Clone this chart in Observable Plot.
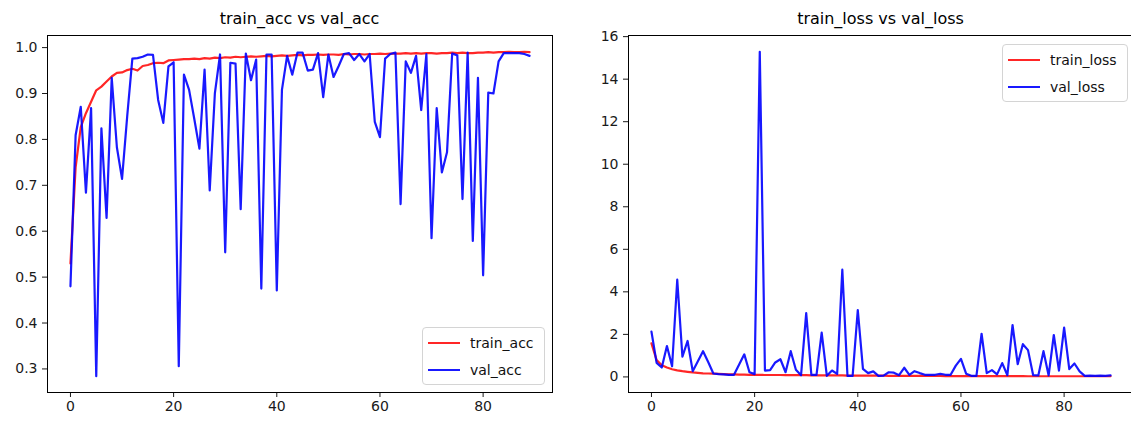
<!DOCTYPE html>
<html><head><meta charset="utf-8">
<script src="https://cdn.jsdelivr.net/npm/d3@7"></script>
<script src="https://cdn.jsdelivr.net/npm/@observablehq/plot@0.6"></script>
<style>
html,body{margin:0;padding:0;background:#fff;overflow:hidden;}
#wrap{position:relative;width:1131px;height:421px;overflow:hidden;font-family:"DejaVu Sans",sans-serif;}
.panel{position:absolute;top:0;}
.title{position:absolute;font-size:16px;line-height:19px;color:#000;transform:translateX(-50%);white-space:nowrap;top:9px;}
.legend{position:absolute;box-sizing:border-box;background:rgba(255,255,255,0.8);border:1px solid #d4d4d4;border-radius:4px;font-size:14px;color:#111;}
.row{display:flex;align-items:center;height:27px;}
.sw{width:32px;height:2px;margin:0 10px 0 5px;}
</style></head><body><div id="wrap"></div>
<script>
const trainAcc = [
0.530,0.739,0.827,0.857,0.882,0.907,0.915,0.926,0.937,0.945,
0.946,0.951,0.954,0.950,0.960,0.962,0.966,0.967,0.966,0.972,
0.973,0.974,0.975,0.975,0.976,0.975,0.977,0.976,0.978,0.977,
0.979,0.978,0.980,0.979,0.980,0.981,0.980,0.981,0.982,0.981,
0.982,0.983,0.982,0.983,0.984,0.983,0.984,0.984,0.985,0.984,
0.985,0.985,0.984,0.986,0.985,0.986,0.986,0.985,0.986,0.986,
0.987,0.986,0.987,0.987,0.987,0.988,0.987,0.988,0.987,0.988,
0.988,0.987,0.988,0.988,0.989,0.988,0.989,0.988,0.988,0.989,
0.989,0.990,0.989,0.990,0.990,0.991,0.990,0.990,0.991,0.990];
const valAcc = [
0.480,0.809,0.871,0.684,0.868,0.284,0.824,0.629,0.934,0.783,
0.714,0.850,0.976,0.977,0.980,0.985,0.984,0.886,0.836,0.959,
0.968,0.306,0.941,0.908,0.845,0.780,0.952,0.689,0.901,0.985,
0.554,0.967,0.965,0.648,0.987,0.929,0.974,0.475,0.985,0.985,
0.471,0.908,0.982,0.941,0.989,0.989,0.950,0.952,0.988,0.892,
0.985,0.936,0.960,0.986,0.988,0.973,0.986,0.970,0.986,0.838,
0.805,0.976,0.986,0.989,0.659,0.970,0.945,0.982,0.864,0.986,
0.585,0.868,0.728,0.772,0.987,0.983,0.670,0.989,0.579,0.934,
0.504,0.902,0.900,0.970,0.988,0.988,0.988,0.988,0.986,0.982];
const trainLoss = [
1.58,0.79,0.55,0.44,0.36,0.31,0.27,0.24,0.21,0.19,
0.17,0.16,0.15,0.14,0.13,0.12,0.12,0.11,0.11,0.10,
0.10,0.10,0.09,0.09,0.09,0.09,0.08,0.08,0.08,0.08,
0.08,0.07,0.07,0.07,0.07,0.07,0.07,0.07,0.06,0.06,
0.06,0.06,0.06,0.06,0.06,0.06,0.05,0.05,0.05,0.05,
0.05,0.05,0.05,0.05,0.05,0.05,0.05,0.04,0.04,0.04,
0.04,0.04,0.04,0.04,0.04,0.04,0.04,0.04,0.04,0.04,
0.04,0.04,0.04,0.03,0.03,0.03,0.03,0.03,0.03,0.03,
0.03,0.03,0.03,0.03,0.03,0.03,0.03,0.03,0.03,0.03];
const valLoss = [
2.13,0.66,0.44,1.45,0.50,4.57,0.95,1.69,0.27,0.74,
1.21,0.70,0.16,0.13,0.12,0.10,0.10,0.58,1.06,0.22,
0.13,15.29,0.30,0.32,0.68,0.83,0.22,1.21,0.34,0.08,
3.00,0.10,0.10,2.08,0.05,0.30,0.14,5.04,0.05,0.05,
3.14,0.38,0.18,0.26,0.05,0.06,0.22,0.20,0.08,0.43,
0.10,0.27,0.18,0.10,0.10,0.10,0.14,0.10,0.10,0.53,
0.85,0.15,0.05,0.05,2.03,0.18,0.32,0.12,0.65,0.08,
2.44,0.60,1.54,1.26,0.08,0.07,1.21,0.07,1.97,0.30,
2.32,0.37,0.63,0.26,0.05,0.06,0.05,0.06,0.05,0.07];
const xTicks = [0, 20, 40, 60, 80];
const accTicks = [0.3, 0.4, 0.5, 0.6, 0.7, 0.8, 0.9, 1.0];
const lossTicks = [0, 2, 4, 6, 8, 10, 12, 14, 16];
const titles = ["train_acc vs val_acc", "train_loss vs val_loss"];
const accNames = ["train_acc", "val_acc"];
const lossNames = ["train_loss", "val_loss"];
const colors = ["#ff0000", "#0000ff"];

function pad(arrs) {
  const all = arrs.flat();
  const lo = d3.min(all), hi = d3.max(all), p = (hi - lo) * 0.05;
  return [lo - p, hi + p];
}
const n = trainAcc.length;
const xDom = [-(n - 1) * 0.05, (n - 1) * 1.05];

function panel(opts) {
  const {left, marginLeft, marginRight, yDom, yTicks, yFmt, series} = opts;
  const chart = Plot.plot({
    width: 560, height: 421,
    marginLeft, marginRight, marginTop: 35, marginBottom: 29,
    style: {fontFamily: "DejaVu Sans", fontSize: "14px", color: "#1a1a1a", background: "transparent", overflow: "visible"},
    x: {domain: xDom, ticks: xTicks, tickSize: 5, tickPadding: 4, label: null},
    y: {domain: yDom, ticks: yTicks, tickFormat: yFmt, tickSize: 5, tickPadding: 5, label: null},
    marks: [
      ...series.map((s, k) => Plot.line(s, {x: (d, i) => i, y: d => d, stroke: colors[k], strokeWidth: 2.2, strokeOpacity: k === 0 ? 0.85 : 0.9})),
      Plot.frame({stroke: "#000", strokeWidth: 1})
    ]
  });
  chart.classList.add("panel");
  chart.style.left = left + "px";
  return chart;
}

const wrap = document.getElementById("wrap");
wrap.appendChild(panel({left: 0, marginLeft: 47, marginRight: 8, yDom: pad([trainAcc, valAcc]), yTicks: accTicks, yFmt: d3.format(".1f"), series: [trainAcc, valAcc]}));
wrap.appendChild(panel({left: 575, marginLeft: 53, marginRight: 2, yDom: pad([trainLoss, valLoss]), yTicks: lossTicks, yFmt: d3.format("d"), series: [trainLoss, valLoss]}));

function addTitle(text, cx) {
  const t = document.createElement("div");
  t.className = "title"; t.textContent = text; t.style.left = cx + "px";
  wrap.appendChild(t);
}
addTitle(titles[0], 299.5);
addTitle(titles[1], 880.5);

function addLegend(names, left, top, width) {
  const box = document.createElement("div");
  box.className = "legend";
  Object.assign(box.style, {left: left + "px", top: top + "px", width: width + "px", height: "58px", paddingTop: "1px"});
  names.forEach((nm, k) => {
    const r = document.createElement("div"); r.className = "row";
    const sw = document.createElement("div"); sw.className = "sw"; sw.style.background = colors[k]; sw.style.opacity = k === 0 ? 0.85 : 0.9;
    const tx = document.createElement("span"); tx.textContent = nm;
    r.appendChild(sw); r.appendChild(tx); box.appendChild(r);
  });
  wrap.appendChild(box);
}
addLegend(accNames, 422, 327, 123);
addLegend(lossNames, 1002, 44, 126);
</script></body></html>
